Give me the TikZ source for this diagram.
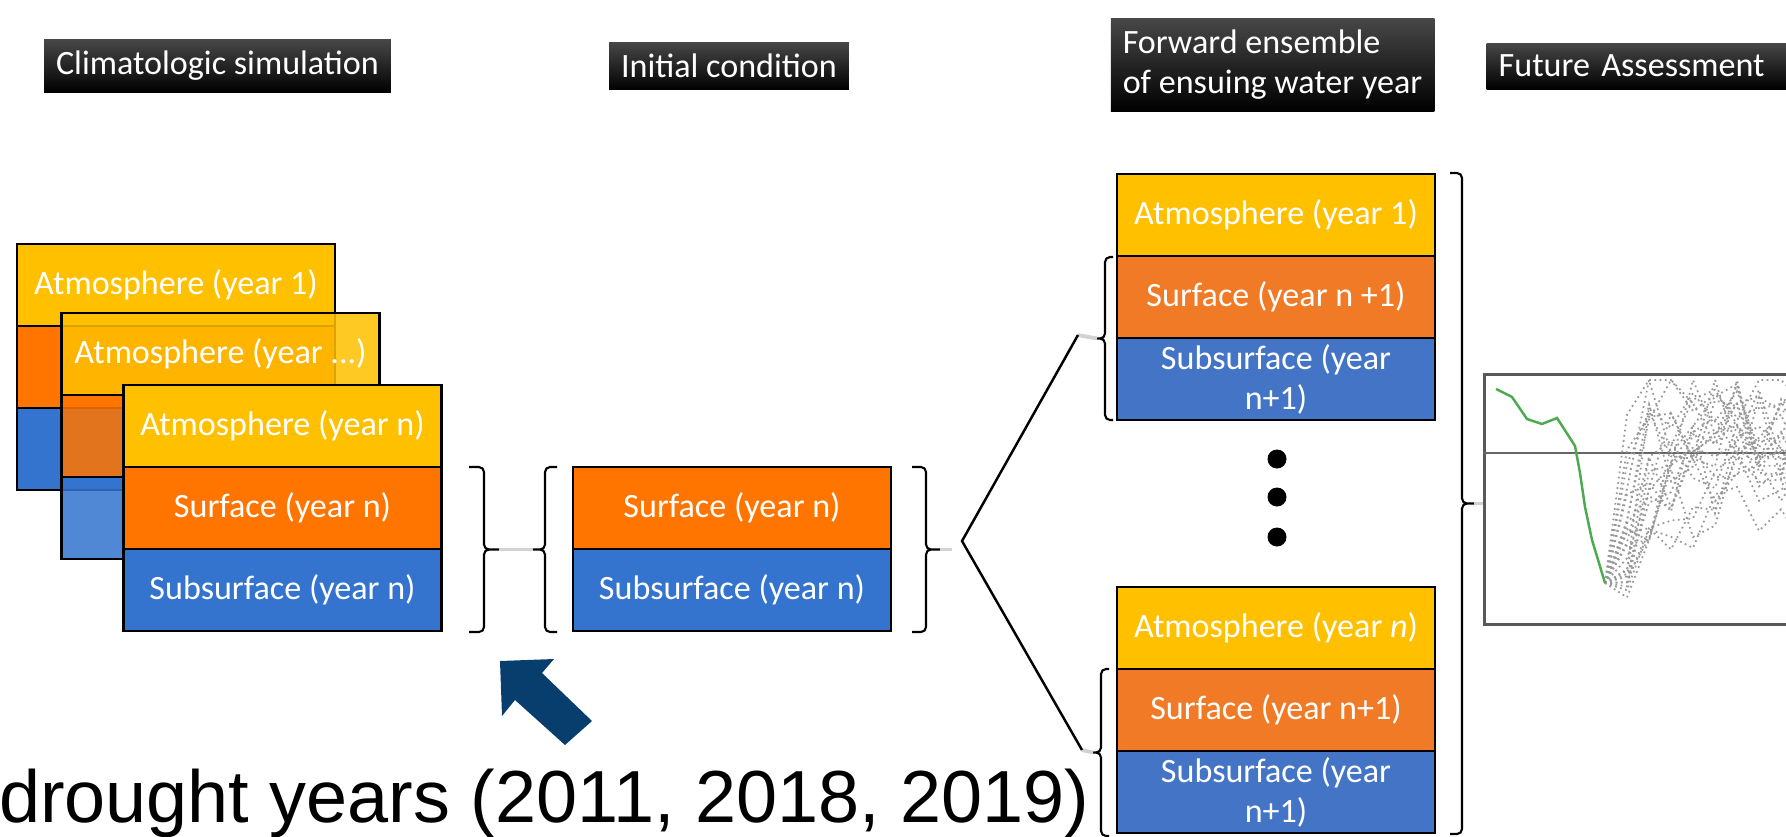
\documentclass[tikz,border=0pt]{standalone}
\usepackage{fontspec}
\setmainfont{Carlito}
\newfontfamily\arialfont{Liberation Sans}
\usetikzlibrary{positioning}

\definecolor{atmo}{RGB}{255,192,0}
\definecolor{surf}{RGB}{255,117,0}
\definecolor{subs}{RGB}{52,116,206}
\definecolor{surfB}{RGB}{240,122,38}
\definecolor{subsB}{RGB}{68,116,198}
\definecolor{navy}{RGB}{8,62,110}
\definecolor{trend}{RGB}{76,170,80}

\newcommand\boxfont{\fontsize{9.7}{11.4}\selectfont}
% hook x, bar x, top y, bottom y
\newcommand\curly[4]{%
  \draw[brace] (#1,#3) -- (#2,#3) -- (#2,{(#3+#4)/2}) -- ({2*#2-#1},{(#3+#4)/2})
               ({2*#2-#1},{(#3+#4)/2}) -- (#2,{(#3+#4)/2}) -- (#2,#4) -- (#1,#4);}

\tikzset{
  layer/.style={draw=black, line width=0.8pt, minimum width=31.8mm, minimum height=8.2mm,
                inner sep=0pt, outer sep=0pt, text=white, align=center, font=\boxfont},
  atmo/.style={layer, fill=atmo},
  surf/.style={layer, fill=surf},
  subs/.style={layer, fill=subs},
  surfB/.style={layer, fill=surfB},
  subsB/.style={layer, fill=subsB},
  faded/.style={fill opacity=0.86, text opacity=1},
  header/.style={top color=black!72, bottom color=black, text=white, inner xsep=1.2mm,
                 minimum height=4.6mm, font=\boxfont},
  brace/.style={line width=0.6pt, rounded corners=0.5mm},
  link/.style={gray!35, line width=1.1pt},
  fork/.style={line width=0.7pt},
  dot/.style={circle, fill=black, minimum size=1.9mm, inner sep=0pt},
  member/.style={gray!80, densely dotted, line width=0.5pt},
}

\begin{document}
\begin{tikzpicture}[x=0.1mm, y=-0.1mm, node distance=0pt]
\useasboundingbox (0,0) rectangle (1786,836);

\node [header] (h1) at (217.5,66) {Climatologic simulation};
\node [header] (h2) at (729,66) {Initial condition};
\node [header, minimum height=9mm, align=left] (h3) at (1272.5,65) {Forward ensemble\\of ensuing water year};
\node [header, text width=28mm, align=left, anchor=west] (h4) at (1486,66) {Future Assessment};

% climatologic years
\node [atmo] (a1) at (176,285) {Atmosphere (year 1)};
\node [surf] [below=of a1] (s1) {};
\node [subs] [below=of s1] (u1) {};
\node [atmo, faded] (a2) at (220.5,354) {Atmosphere (year ...)};
\node [surf, faded] [below=of a2] (s2) {};
\node [subs, faded] [below=of s2] (u2) {};
\node [atmo] (a3) at (282.5,426) {Atmosphere (year n)};
\node [surf] [below=of a3] (s3) {Surface (year n)};
\node [subs] [below=of s3] (u3) {Subsurface (year n)};

% initial condition
\node [surf] (s4) at (732,508) {Surface (year n)};
\node [subs] [below=of s4] (u4) {Subsurface (year n)};

% ensemble members
\node [atmo] (a5) at (1276,215) {Atmosphere (year 1)};
\node [surfB] [below=of a5] (s5) {Surface (year n +1)};
\node [subsB] [below=of s5] (u5) {Subsurface (year\\n+1)};
\node [atmo] (a6) at (1276,628) {Atmosphere (year \textit{n})};
\node [surfB] [below=of a6] (s6) {Surface (year n+1)};
\node [subsB] [below=of s6] (u6) {Subsurface (year\\n+1)};
\foreach \y [count=\i] in {459,497,537}
  \node [dot] (d\i) at (1277,\y) {};

\curly{469}{484}{467}{632}
\curly{557}{545}{467}{632}
\curly{912}{926}{467}{632}
\curly{1113}{1105}{257}{420}
\curly{1109}{1101}{669}{836}
\curly{1450}{1462}{173}{834}

\coordinate (kA) at (499,549.5);
\coordinate (kB) at (533,549.5);
\coordinate (kC) at (940,549.5);
\coordinate (fork) at (962,541);
\coordinate (up) at (1078,335);
\coordinate (dn) at (1082,750);
\coordinate (kD) at (1097,338.5);
\coordinate (kE) at (1093,752.5);
\coordinate (kF) at (1474,503.5);

\node [draw=black!65, line width=0.9pt, fill=white, minimum width=32mm, minimum height=25mm,
       anchor=north west, inner sep=0pt] (plot) at (1483,373) {};

\draw[link] (kA) -- (kB);
\draw[link] (kC) -- ++(12,0);
\draw[link] (up) -- (kD);
\draw[link] (dn) -- (kE);
\draw[link] (kF) -- (plot.west |- kF);
\draw[fork] (up) -- (fork) -- (dn);

% outlook plot
\draw[black!60, line width=0.4pt] (1483,453) -- (1800,453);
\coordinate (low) at (1605,583);
\pgfmathsetseed{11}
\begin{scope}
\clip (1484,374) rectangle (1800,622);
\foreach \t in {1,...,22}{
  \pgfmathsetmacro\peak{60+140*rnd}
  \pgfmathsetmacro\lagk{1+4*rnd}
  \draw[member] (low) \foreach \k [evaluate=\k as \yy using {max(380,min(618,583-\peak*min(1,\k/\lagk)+55*rand))}] in {1,...,9}{ -- (1605+22*\k,\yy)};
}
\end{scope}
\draw[trend, line width=0.7pt] (1496,389) -- (1512,397) -- (1527,419) -- (1542,424) -- (1557,418)
  -- (1568,435) -- (1575,446) -- (1580,473) -- (1585,507) -- (1592,540) -- (low);

\fill[navy] (500,661) -- (554,659) -- (542,673) -- (592,721) -- (565,745) -- (515,700) -- (502,716) -- cycle;
\node [font=\arialfont\fontsize{21}{25}\selectfont, anchor=base east, inner sep=0pt] (dry) at (1090,822) {drought years (2011, 2018, 2019)};
\end{tikzpicture}
\end{document}
